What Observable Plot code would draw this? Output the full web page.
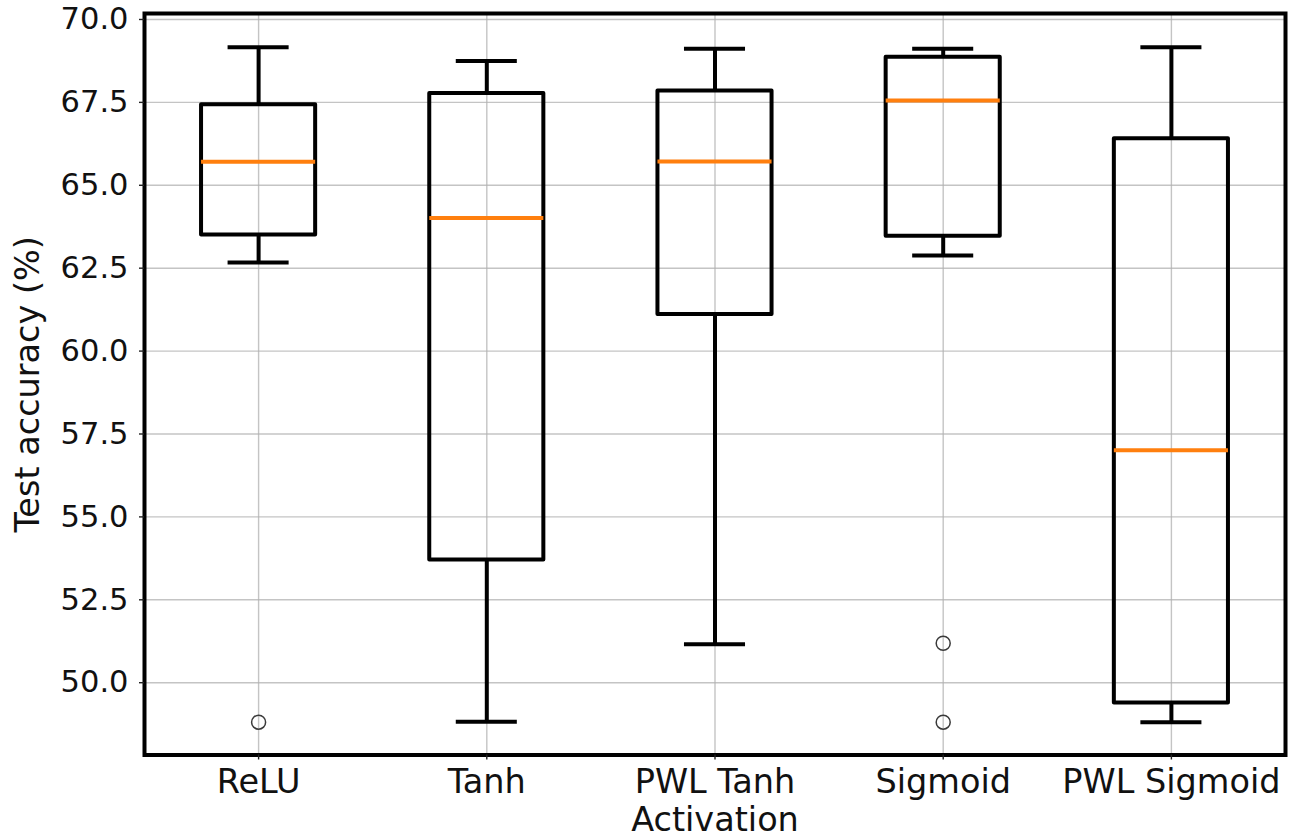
<!DOCTYPE html>
<html>
<head>
<meta charset="utf-8">
<script src="https://cdn.jsdelivr.net/npm/d3@7"></script>
<script src="https://cdn.jsdelivr.net/npm/@observablehq/plot@0.6"></script>
<style>
  html, body { margin: 0; padding: 0; background: #fff; }
  #chart svg { display: block; }
</style>
</head>
<body>
<div id="chart"></div>
<script>
// ---- data ----
const activations = ["ReLU", "Tanh", "PWL Tanh", "Sigmoid", "PWL Sigmoid"];
const whiskerLow  = [62.67, 48.82, 51.16, 62.88, 48.81];
const q1          = [63.50, 53.70, 61.10, 63.46, 49.39];
const median      = [65.71, 64.01, 65.72, 67.56, 57.01];
const q3          = [67.43, 67.77, 67.84, 68.86, 66.40];
const whiskerHigh = [69.16, 68.75, 69.12, 69.12, 69.16];
const outlierActivation = ["ReLU", "Sigmoid", "Sigmoid"];
const outlierValue      = [48.81, 51.19, 48.81];
const yTicks = [50.0, 52.5, 55.0, 57.5, 60.0, 62.5, 65.0, 67.5, 70.0];
const yLabel = "Test accuracy (%)";
const xLabel = "Activation";

// ---- tables built from the arrays ----
const boxes = activations.map((name, i) => ({
  name, pos: i + 1,
  lo: whiskerLow[i], q1: q1[i], med: median[i], q3: q3[i], hi: whiskerHigh[i]
}));
const outliers = outlierActivation.map((name, i) => ({
  pos: activations.indexOf(name) + 1, value: outlierValue[i]
}));
const xTicks = activations.map((_, i) => i + 1);

const FS_Y = 30.5;   // y tick labels
const FS_X = 33.5;   // x tick labels and axis labels
const boxHalf = 0.25, capHalf = 0.125;

const chart = Plot.plot({
  width: 1289,
  height: 833,
  marginLeft: 144,
  marginRight: 4,
  marginTop: 13,
  marginBottom: 78.5,
  style: { fontFamily: "DejaVu Sans", fontSize: FS_Y + "px", background: "white", color: "black" },
  x: { type: "linear", domain: [0.5, 5.5] },
  y: { domain: [47.82, 70.18] },
  marks: [
    // grid
    Plot.gridX(xTicks, { stroke: "#b0b0b0", strokeOpacity: 0.75, strokeWidth: 1.4 }),
    Plot.gridY(yTicks, { stroke: "#b0b0b0", strokeOpacity: 0.75, strokeWidth: 1.4 }),
    // whiskers
    Plot.ruleX(boxes, { x: "pos", y1: "q3", y2: "hi", stroke: "black", strokeWidth: 4 }),
    Plot.ruleX(boxes, { x: "pos", y1: "lo", y2: "q1", stroke: "black", strokeWidth: 4 }),
    // caps
    Plot.ruleY(boxes, { y: "hi", x1: d => d.pos - capHalf, x2: d => d.pos + capHalf, stroke: "black", strokeWidth: 4, strokeLinecap: "square" }),
    Plot.ruleY(boxes, { y: "lo", x1: d => d.pos - capHalf, x2: d => d.pos + capHalf, stroke: "black", strokeWidth: 4, strokeLinecap: "square" }),
    // boxes
    Plot.rect(boxes, { x1: d => d.pos - boxHalf, x2: d => d.pos + boxHalf, y1: "q1", y2: "q3", fill: "none", stroke: "black", strokeWidth: 4, strokeLinejoin: "round" }),
    // medians
    Plot.ruleY(boxes, { y: "med", x1: d => d.pos - boxHalf, x2: d => d.pos + boxHalf, stroke: "#ff7f0e", strokeWidth: 4 }),
    // outliers
    Plot.dot(outliers, { x: "pos", y: "value", r: 7, fill: "none", stroke: "#3a3a3a", strokeWidth: 1.5 }),
    // frame
    Plot.frame({ stroke: "black", strokeWidth: 4 }),
    // axes
    Plot.axisY(yTicks, { tickFormat: d => d.toFixed(1), tickSize: 5, tickPadding: 11, fontSize: FS_Y, label: null, stroke: "#222", strokeWidth: 1.4, fill: "#111" }),
    Plot.axisX(xTicks, { tickFormat: i => activations[i - 1], tickSize: 5, tickPadding: 9, fontSize: FS_X, label: null, stroke: "#222", strokeWidth: 1.4, fill: "#111" }),
    // axis labels
    Plot.text([xLabel], { frameAnchor: "bottom", dy: 75.5, lineAnchor: "bottom", textAnchor: "middle", fontSize: FS_X, fill: "#111" }),
    Plot.text([yLabel], { frameAnchor: "left", dx: -106, rotate: -90, lineAnchor: "bottom", textAnchor: "middle", fontSize: FS_X, fill: "#111" })
  ]
});
document.getElementById("chart").appendChild(chart);
</script>
</body>
</html>
